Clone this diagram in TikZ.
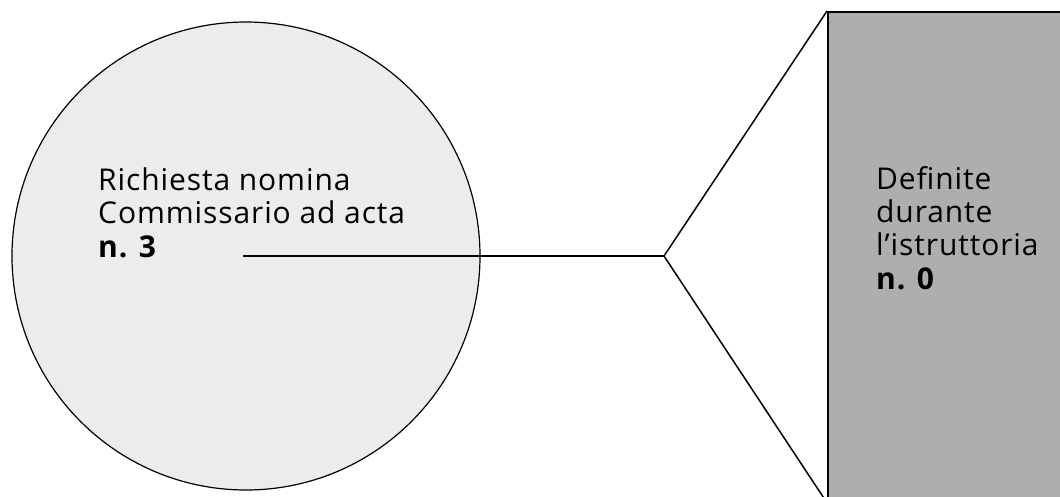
\documentclass[tikz,border=0pt]{standalone}
\usepackage{fontspec}
\setmainfont{Open Sans}[LetterSpace=3]
\usetikzlibrary{positioning,calc}
\definecolor{lightgrey}{RGB}{236,236,236}
\definecolor{midgrey}{RGB}{174,174,174}

\begin{document}
\begin{tikzpicture}[x=1pt,y=-1pt,
  lbl/.style={align=left,inner sep=0pt,anchor=base west,font=\fontsize{30}{33.3}\selectfont}]
  \useasboundingbox (0,0) rectangle (1060,496);
  \clip (0,0) rectangle (1060,496);

  \node[circle,draw,line width=1.2pt,fill=lightgrey,minimum size=468pt,inner sep=0pt] (circ) at (246,256) {};
  \node[rectangle,draw,line width=1.8pt,fill=midgrey,minimum width=240pt,minimum height=490pt,anchor=north west,inner sep=0pt] (box) at (827,11) {};

  % last baseline of each label
  \node[lbl] (asked) at (98,257) {Richiesta nomina\\Commissario ad acta\\\textbf{n. 3}};
  \node[lbl] (settled) at (876,289) {Definite\\durante\\l’istruttoria\\\textbf{n. 0}};

  \coordinate (fork) at (664,256);
  \draw[line width=2pt] ([xshift=-3pt]circ.center) -- (fork);
  \draw[line width=1.5pt] (fork) -- (box.north west);
  \draw[line width=1.5pt] (fork) -- (box.south west);

\end{tikzpicture}
\end{document}
